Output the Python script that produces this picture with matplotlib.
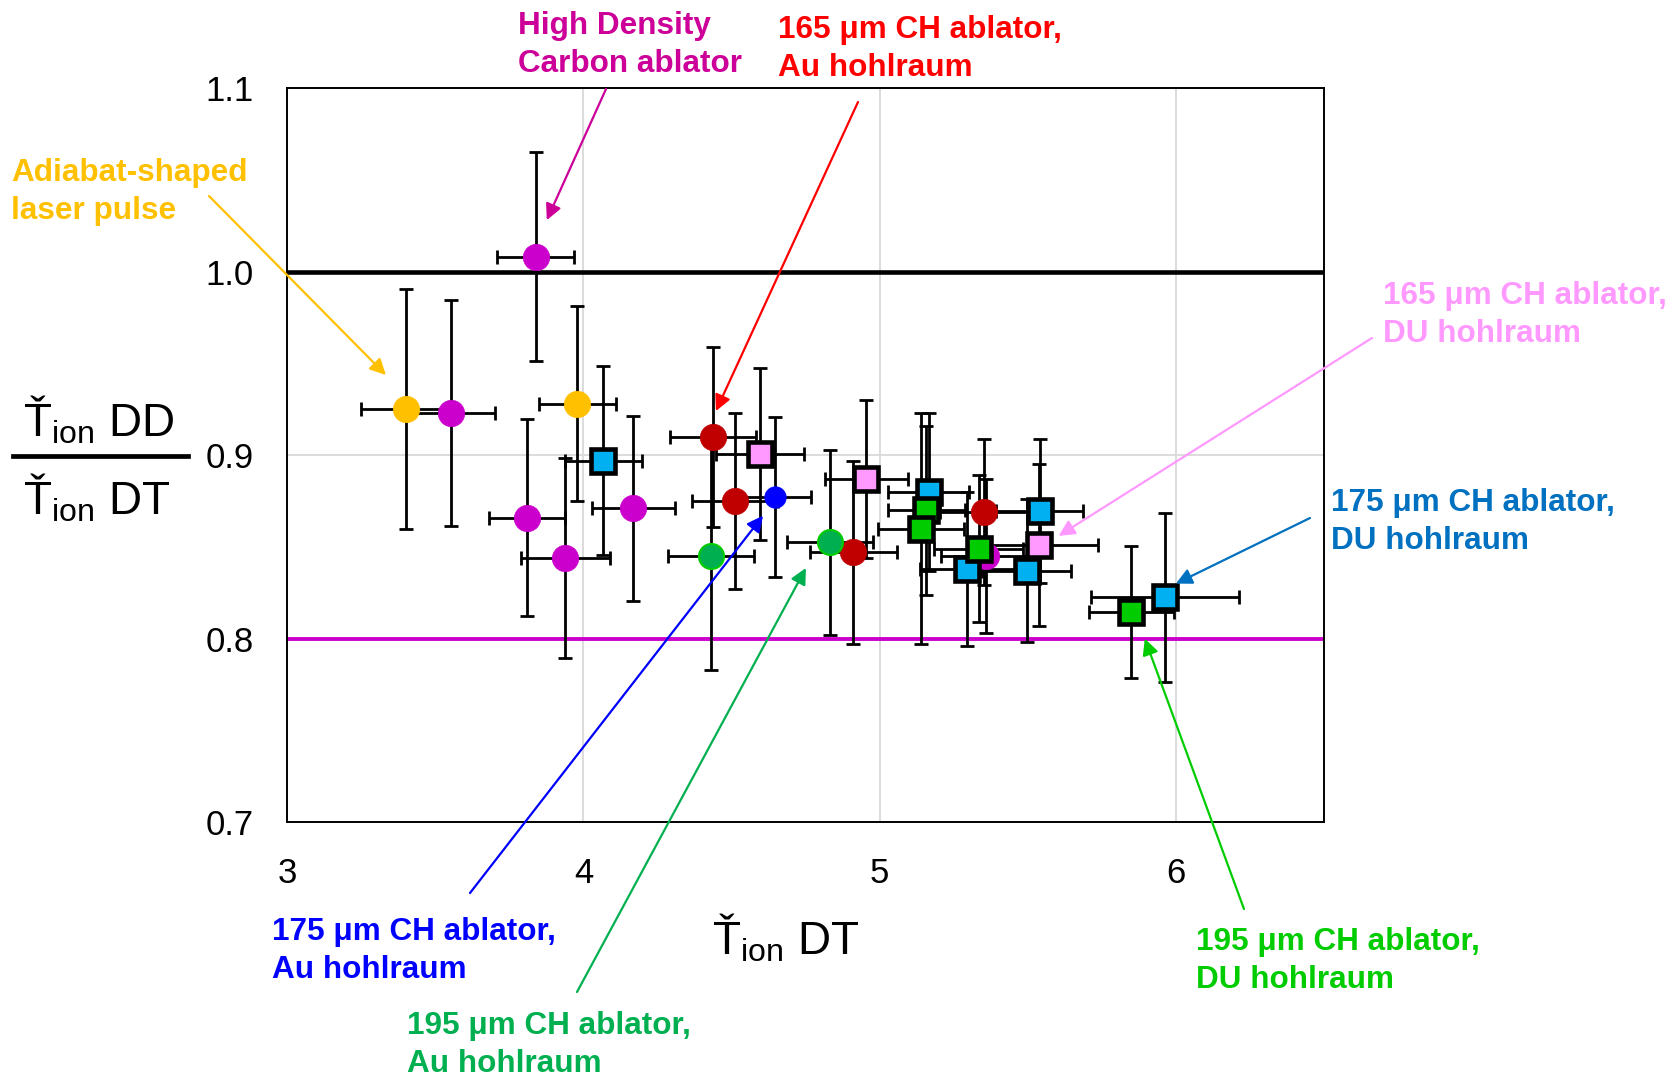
import matplotlib
matplotlib.use("Agg")
import matplotlib.pyplot as plt
from matplotlib.lines import Line2D

plt.rcParams['font.family'] = ['Liberation Sans', 'DejaVu Sans']
plt.rcParams['mathtext.fontset'] = 'custom'
plt.rcParams['mathtext.rm'] = 'Liberation Sans'
plt.rcParams['mathtext.it'] = 'Liberation Sans:italic'
plt.rcParams['mathtext.bf'] = 'Liberation Sans:bold'

# ---- data (x = T_ion DT, y = ratio DD/DT) ----
# adiabat-shaped laser pulse (orange circles)
adi_x = [3.40, 3.979]
adi_y = [0.925, 0.928]
adi_xerr = [0.15, 0.13]
adi_yerr = [0.0655, 0.053]

# magenta circles (incl. high density carbon shot)
mag_x = [3.839, 3.552, 3.809, 3.938, 4.168, 5.358]
mag_y = [1.008, 0.923, 0.866, 0.844, 0.871, 0.845]
mag_xerr = [0.13, 0.15, 0.128, 0.15, 0.14, 0.15]
mag_yerr = [0.057, 0.0615, 0.0535, 0.0545, 0.0505, 0.042]

# 165 um CH, Au hohlraum (dark red circles)
r165_x = [4.438, 4.51, 4.91, 5.352]
r165_y = [0.910, 0.875, 0.847, 0.869]
r165_xerr = [0.145, 0.145, 0.147, 0.15]
r165_yerr = [0.049, 0.048, 0.050, 0.040]

# 175 um CH, Au hohlraum (blue circle)
b175_x = [4.648]
b175_y = [0.877]
b175_xerr = [0.12]
b175_yerr = [0.0435]

# 195 um CH, Au hohlraum (green circles)
g195_x = [4.431, 4.832]
g195_y = [0.845, 0.8525]
g195_xerr = [0.146, 0.145]
g195_yerr = [0.062, 0.0505]

# 165 um CH, DU hohlraum (pink squares)
p165du_x = [4.596, 4.955, 5.537]
p165du_y = [0.9006, 0.887, 0.851]
p165du_xerr = [0.15, 0.14, 0.20]
p165du_yerr = [0.047, 0.043, 0.044]

# 175 um CH, DU hohlraum (cyan squares)
c175du_x = [4.067, 5.166, 5.296, 5.54, 5.497, 5.963]
c175du_y = [0.897, 0.880, 0.838, 0.8696, 0.837, 0.8226]
c175du_xerr = [0.13, 0.137, 0.16, 0.148, 0.15, 0.25]
c175du_yerr = [0.0515, 0.043, 0.042, 0.039, 0.039, 0.046]

# 195 um CH, DU hohlraum (green squares)
g195du_x = [5.158, 5.138, 5.334, 5.85]
g195du_y = [0.870, 0.860, 0.849, 0.8144]
g195du_xerr = [0.13, 0.145, 0.15, 0.144]
g195du_yerr = [0.046, 0.063, 0.040, 0.036]

W, H = 1681, 1081
fig = plt.figure(figsize=(W / 100, H / 100), dpi=100)
ax = fig.add_axes([287.3 / W, 1 - 822.3 / H, (1324 - 287.3) / W, (822.3 - 87.9) / H])


def fx(px):
    return px / W


def fy(py):
    return 1 - py / H


series = [
    (adi_x, adi_y, adi_xerr, adi_yerr, 'o', '#FFC000', '#FFC000', 19, 0.5),
    (mag_x, mag_y, mag_xerr, mag_yerr, 'o', '#CC00CC', '#CC00CC', 19, 0.5),
    (r165_x, r165_y, r165_xerr, r165_yerr, 'o', '#C00000', '#C00000', 19, 0.5),
    (b175_x, b175_y, b175_xerr, b175_yerr, 'o', '#0000FF', '#0000FF', 15.5, 0.5),
    (g195_x, g195_y, g195_xerr, g195_yerr, 'o', '#00B050', '#00CC00', 18, 1.5),
    (p165du_x, p165du_y, p165du_xerr, p165du_yerr, 's', '#FF99FF', 'black', 17.5, 3.3),
    (c175du_x, c175du_y, c175du_xerr, c175du_yerr, 's', '#00B0F0', 'black', 17.5, 3.3),
    (g195du_x, g195du_y, g195du_xerr, g195du_yerr, 's', '#00CC00', 'black', 17.5, 3.3),
]

# error bars underneath all markers
for sx, sy, sxe, sye, *_ in series:
    ax.errorbar(sx, sy, xerr=sxe, yerr=sye, fmt='none', ecolor='black',
                elinewidth=2, capsize=4.8, capthick=2, zorder=3)

for i, (sx, sy, sxe, sye, mk, fc, ec, ms, mew) in enumerate(series):
    ax.plot(sx, sy, linestyle='none', marker=mk, markersize=ms, markerfacecolor=fc,
            markeredgecolor=ec, markeredgewidth=mew, zorder=4 + i * 0.1)

ax.axhline(1.0, color='black', lw=3.3, zorder=2.5)
ax.axhline(0.8, color='#CC00CC', lw=2.8, zorder=2.5)

ax.set_xlim(3, 6.5)
ax.set_ylim(0.7, 1.1)
ax.set_xticks([3, 4, 5, 6])
ax.set_yticks([0.7, 0.8, 0.9, 1.0, 1.1])
ax.set_yticklabels(['0.7', '0.8', '0.9', '1.0', '1.1'])
ax.tick_params(axis='both', length=0, labelsize=25)
ax.tick_params(axis='y', pad=24)
ax.tick_params(axis='x', pad=25)
ax.grid(True, color='#D9D9D9', lw=1.3, zorder=0)
ax.set_axisbelow(True)
for sp in ax.spines.values():
    sp.set_linewidth(1.4)
    sp.set_color('black')

# axis labels
lab_dd = r'$\mathrm{Ť}_{\mathrm{ion}}$ DD'
lab_dt = r'$\mathrm{Ť}_{\mathrm{ion}}$ DT'
fig.text(fx(99), fy(436), lab_dd, fontsize=33, ha='center', va='baseline')
fig.text(fx(97), fy(515), lab_dt, fontsize=33, ha='center', va='baseline')
fig.add_artist(Line2D([fx(13), fx(188)], [fy(456), fy(456)], color='black', lw=3.4))
fig.text(fx(786), fy(954), lab_dt, fontsize=33, ha='center', va='baseline')

# annotations: text block (left, centre y in pixels), arrow tail (pixels), arrow tip (data)
notes = [
    ('High Density\nCarbon ablator', '#CC0099', (518, 45), (606, 89), (3.876, 1.028)),
    ('165 μm CH ablator,\nAu hohlraum', '#FF0000', (778, 49), (858, 102), (4.447, 0.924)),
    ('Adiabat-shaped\nlaser pulse', '#FFC000', (11, 192), (209, 196), (3.333, 0.9436)),
    ('165 μm CH ablator,\nDU hohlraum', '#FF99FF', (1383, 315), (1372, 338), (5.604, 0.856)),
    ('175 μm CH ablator,\nDU hohlraum', '#0070C0', (1331, 522), (1310, 518), (6.0, 0.830)),
    ('175 μm CH ablator,\nAu hohlraum', '#0000FF', (272, 951), (470, 893), (4.606, 0.867)),
    ('195 μm CH ablator,\nAu hohlraum', '#00B050', (407, 1045), (577, 992), (4.751, 0.8385)),
    ('195 μm CH ablator,\nDU hohlraum', '#00CC00', (1196, 961), (1244, 909), (5.895, 0.800)),
]

for txt, col, (tx, ty), (ax_px, ay_px), tip in notes:
    fig.text(fx(tx), fy(ty), txt, color=col, fontsize=22.7, fontweight='bold',
             ha='left', va='center', linespacing=1.38)
    ax.annotate('', xy=tip, xycoords='data',
                xytext=(ax_px, H - ay_px), textcoords='figure pixels',
                arrowprops=dict(arrowstyle='-|>', color=col, lw=1.6,
                                mutation_scale=24, shrinkA=0, shrinkB=0),
                annotation_clip=False, zorder=6)

fig.savefig('out.png', dpi=100)
